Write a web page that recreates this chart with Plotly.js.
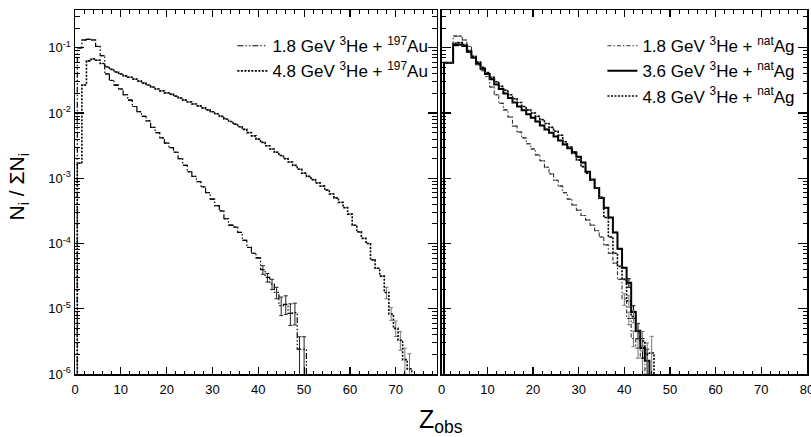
<!DOCTYPE html>
<html><head><meta charset="utf-8">
<script src="https://cdn.plot.ly/plotly-3.0.1.min.js"></script>
<style>html,body{margin:0;padding:0;background:#fff}#chart{width:811px;height:437px}</style>
</head><body><div id="chart"></div>
<script>
// Values: N_i / sum N_i, index = Z_obs (bin centre), 0 = empty bin
const au18 = [0,
  0.100, 0.132, 0.135, 0.132, 0.105, 0.0759, 0.0398, 0.0316, 0.0269, 0.0234,
  0.0191, 0.0158, 0.0126, 0.0105, 0.00891, 0.00759, 0.00603, 0.00501, 0.00417, 0.00347,
  0.00295, 0.00251, 0.00200, 0.00158, 0.00126, 0.00107, 8.91e-4, 7.41e-4, 6.03e-4, 4.79e-4,
  3.80e-4, 3.16e-4, 2.40e-4, 1.91e-4, 1.78e-4, 1.48e-4, 1.12e-4, 8.71e-5, 7.08e-5, 6.03e-5,
  3.98e-5, 3.02e-5, 2.40e-5, 1.78e-5, 1.12e-5, 1.17e-5, 8.5e-6, 8.7e-6, 2.4e-6, 2.4e-6,
  0];
const au48 = [0,
  1.7e-3, 0.0269, 0.0631, 0.0676, 0.0646, 0.0575, 0.0513, 0.0468, 0.0427, 0.0398,
  0.0372, 0.0355, 0.0331, 0.0309, 0.0288, 0.0269, 0.0251, 0.0234, 0.0219, 0.0204,
  0.0195, 0.0182, 0.0170, 0.0158, 0.0148, 0.0138, 0.0129, 0.0120, 0.0112, 0.0105,
  0.00977, 0.00891, 0.00813, 0.00741, 0.00676, 0.00617, 0.00562, 0.00501, 0.00447, 0.00398,
  0.00355, 0.00316, 0.00282, 0.00251, 0.00224, 0.00200, 0.00178, 0.00158, 0.00138, 0.00120,
  0.00107, 9.55e-4, 8.51e-4, 7.59e-4, 6.61e-4, 5.75e-4, 5.01e-4, 4.27e-4, 3.55e-4, 2.82e-4,
  1.91e-4, 1.51e-4, 1.20e-4, 1.00e-4, 5.62e-5, 4.17e-5, 3.16e-5, 1.78e-5, 8.3e-6, 5.0e-6,
  3.3e-6, 1.66e-6, 1.2e-6,
  0];
const ag18 = [0,
  0.0589, 0.0589, 0.151, 0.151, 0.132, 0.105, 0.0708, 0.0550, 0.0447, 0.0363,
  0.0251, 0.0191, 0.0141, 0.0112, 0.00871, 0.00631, 0.00513, 0.00417, 0.00339, 0.00282,
  0.00229, 0.00186, 0.00148, 0.00117, 9.33e-4, 7.59e-4, 6.03e-4, 4.79e-4, 3.89e-4, 3.24e-4,
  2.69e-4, 2.29e-4, 1.91e-4, 1.58e-4, 1.26e-4, 9.55e-5, 7.08e-5, 5.01e-5, 2.82e-5, 1.41e-5,
  7.1e-6, 3.5e-6, 2.5e-6, 1.8e-6,
  0];
const ag36 = [0,
  0.0589, 0.0589, 0.110, 0.112, 0.107, 0.0871, 0.0708, 0.0575, 0.0479, 0.0398,
  0.0331, 0.0275, 0.0234, 0.0200, 0.0170, 0.0145, 0.0126, 0.0110, 0.00955, 0.00851,
  0.00741, 0.00646, 0.00562, 0.00501, 0.00437, 0.00380, 0.00331, 0.00288, 0.00251, 0.00214,
  0.00174, 0.00126, 9.55e-4, 7.08e-4, 5.01e-4, 3.55e-4, 2.51e-4, 1.48e-4, 8.32e-5, 4.27e-5,
  2.51e-5, 8.9e-6, 4.6e-6, 2.5e-6, 1.6e-6,
  0];
const ag48 = [0,
  0.0589, 0.0589, 0.117, 0.120, 0.112, 0.0912, 0.0741, 0.0603, 0.0501, 0.0417,
  0.0355, 0.0302, 0.0257, 0.0224, 0.0191, 0.0166, 0.0145, 0.0126, 0.0112, 0.0100,
  0.00891, 0.00794, 0.00692, 0.00603, 0.00525, 0.00457, 0.00363, 0.00302, 0.00240, 0.00191,
  0.00151, 0.00120, 9.33e-4, 7.08e-4, 5.13e-4, 2.51e-4, 1.26e-4, 7.08e-5, 4.47e-5, 2.82e-5,
  1.32e-5, 7.6e-6, 4.5e-6, 3.2e-6, 2.0e-6, 2.1e-6,
  0];

// Statistical error bars in the tails: Z, relative up, relative down
const au18ErrZ = [41, 42, 43, 44, 45, 46, 47, 48, 49, 50];
const au18ErrUp = [0.15, 0.15, 0.18, 0.2, 0.35, 0.35, 0.4, 0.4, 0.55, 0.55];
const au18ErrDn = [0.15, 0.15, 0.18, 0.2, 0.3, 0.3, 0.35, 0.35, 0.99, 0.99];
const au48ErrZ = [68, 69, 70, 71, 72, 73];
const au48ErrUp = [0.2, 0.25, 0.3, 0.35, 0.5, 0.7];
const au48ErrDn = [0.2, 0.2, 0.25, 0.3, 0.4, 0.99];
const ag18ErrZ = [40, 41, 42, 43, 44];
const ag18ErrUp = [0.2, 0.25, 0.3, 0.4, 0.5];
const ag18ErrDn = [0.2, 0.2, 0.25, 0.3, 0.99];
const ag36ErrZ = [41, 42, 43, 44, 45];
const ag36ErrUp = [0.15, 0.25, 0.3, 0.4, 0.5];
const ag36ErrDn = [0.15, 0.2, 0.25, 0.3, 0.99];
const ag48ErrZ = [41, 42, 43, 44, 45, 46];
const ag48ErrUp = [0.2, 0.25, 0.3, 0.4, 0.5, 0.8];
const ag48ErrDn = [0.2, 0.2, 0.25, 0.3, 0.4, 0.99];

const names = {
  au18: '1.8 GeV <sup>3</sup>He + <sup>197</sup>Au',
  au48: '4.8 GeV <sup>3</sup>He + <sup>197</sup>Au',
  ag18: '1.8 GeV <sup>3</sup>He + <sup>nat</sup>Ag',
  ag36: '3.6 GeV <sup>3</sup>He + <sup>nat</sup>Ag',
  ag48: '4.8 GeV <sup>3</sup>He + <sup>nat</sup>Ag'
};
const yTickVals = [1e-6, 1e-5, 1e-4, 1e-3, 1e-2, 1e-1];
const yTickText = ['10<sup>-6</sup>', '10<sup>-5</sup>', '10<sup>-4</sup>', '10<sup>-3</sup>', '10<sup>-2</sup>', '10<sup>-1</sup>'];
const xTickVals = [0, 10, 20, 30, 40, 50, 60, 70, 80];

const FLOOR = 1e-12; // empty bins drawn below the axis
function series(vals, ez, eu, ed) {
  const x = vals.map((_, i) => i);
  const y = vals.map(v => v > 0 ? v : FLOOR);
  const up = vals.map(() => 0), dn = vals.map(() => 0);
  ez.forEach((z, k) => { up[z] = vals[z] * eu[k]; dn[z] = vals[z] * ed[k]; });
  return {x, y, up, dn};
}
function trace(vals, ez, eu, ed, name, line, xa, ya, leg, errColor) {
  const s = series(vals, ez, eu, ed);
  return {
    type: 'scatter', mode: 'lines', x: s.x, y: s.y, name: name,
    xaxis: xa, yaxis: ya, legend: leg,
    line: Object.assign({shape: 'hvh', color: '#000'}, line),
    error_y: {type: 'data', symmetric: false, array: s.up, arrayminus: s.dn,
              color: errColor, thickness: 1, width: 2},
    hoverinfo: 'skip'
  };
}
const minorY = [];
for (let e = -6; e <= -1; e++) for (let m = 2; m <= 9; m++) minorY.push(m * Math.pow(10, e));

const data = [
  trace(au18, au18ErrZ, au18ErrUp, au18ErrDn, names.au18, {width: 1.2, dash: '6px,2px,1.5px,2px,1.5px,2px'}, 'x', 'y', 'legend', '#222'),
  trace(au48, au48ErrZ, au48ErrUp, au48ErrDn, names.au48, {width: 1.6, dash: '2px,1.5px'}, 'x', 'y', 'legend', '#777'),
  trace(ag18, ag18ErrZ, ag18ErrUp, ag18ErrDn, names.ag18, {width: 1.1, dash: '4px,2px,1.5px,2px', color: '#333'}, 'x2', 'y2', 'legend2', '#777'),
  trace(ag36, ag36ErrZ, ag36ErrUp, ag36ErrDn, names.ag36, {width: 2}, 'x2', 'y2', 'legend2', '#000'),
  trace(ag48, ag48ErrZ, ag48ErrUp, ag48ErrDn, names.ag48, {width: 1.6, dash: '2px,1.5px'}, 'x2', 'y2', 'legend2', '#777')
];

const FONT = 'Liberation Sans, Arial, Helvetica, sans-serif';
const xCommon = {
  showline: true, linecolor: '#000', linewidth: 1.5, mirror: 'allticks',
  ticks: 'inside', ticklen: 7, tickwidth: 1.2, tickcolor: '#000',
  tickmode: 'array', tickvals: xTickVals, ticklabeloverflow: 'allow',
  minor: {dtick: 2, tick0: 0, ticklen: 3.5, tickwidth: 1, tickcolor: '#000', ticks: 'inside'},
  showgrid: false, zeroline: false, tickfont: {size: 13, family: FONT, color: '#000'},
  ticklabelstandoff: 3
};
const yCommon = {
  type: 'log', range: [-6, -0.42], showline: true, linecolor: '#000', linewidth: 1.5,
  mirror: 'ticks', ticks: 'inside', ticklen: 9, tickwidth: 1.2, tickcolor: '#000',
  tickmode: 'array', tickvals: yTickVals, ticktext: yTickText,
  minor: {tickmode: 'array', tickvals: minorY, ticklen: 4.5, tickwidth: 1, tickcolor: '#000', ticks: 'inside'},
  showgrid: false, zeroline: false, tickfont: {size: 13, family: FONT, color: '#000'}
};
const legCommon = {
  xanchor: 'left', yanchor: 'top', bgcolor: 'rgba(0,0,0,0)', borderwidth: 0,
  font: {size: 17, family: FONT, color: '#000'}, tracegroupgap: 0, itemclick: false
};
const layout = {
  width: 811, height: 437, paper_bgcolor: '#fff', plot_bgcolor: '#fff',
  margin: {l: 75, r: 4, t: 10, b: 63}, showlegend: true,
  xaxis: Object.assign({}, xCommon, {domain: [0, 0.4945], range: [0, 79], anchor: 'y'}),
  xaxis2: Object.assign({}, xCommon, {domain: [0.501, 1], range: [0, 80.02], anchor: 'y2'}),
  yaxis: Object.assign({}, yCommon, {anchor: 'x'}),
  yaxis2: Object.assign({}, yCommon, {anchor: 'x2', matches: 'y', showticklabels: false}),
  legend: Object.assign({}, legCommon, {x: 0.215, y: 0.95}),
  legend2: Object.assign({}, legCommon, {x: 0.7205, y: 0.95}),
  annotations: [
    {xref: 'paper', yref: 'paper', x: 0.5, y: -0.128, xanchor: 'center', yanchor: 'middle', showarrow: false,
     text: 'Z<sub>obs</sub>', font: {size: 25, family: FONT, color: '#000'}},
    {xref: 'paper', yref: 'paper', x: -0.078, y: 0.515, xanchor: 'center', yanchor: 'middle', showarrow: false,
     textangle: -90, text: 'N<sub>i</sub> / ΣN<sub>i</sub>', font: {size: 21, family: FONT, color: '#000'}}
  ]
};
Plotly.newPlot('chart', data, layout, {staticPlot: true, displayModeBar: false});
</script></body></html>
